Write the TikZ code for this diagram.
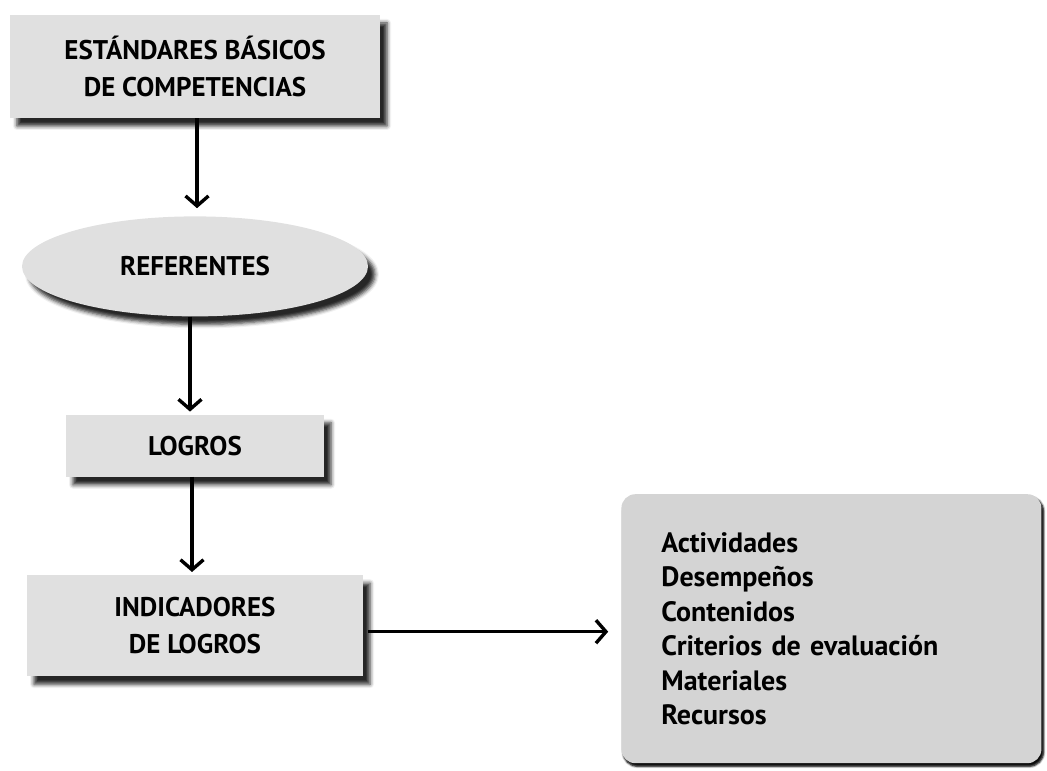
\documentclass[tikz,border=0pt]{standalone}
\usepackage{fontspec}
\setmainfont{PT Sans}
\usetikzlibrary{arrows.meta,positioning,shapes.geometric,shadows.blur}

\begin{document}
\begin{tikzpicture}[x=1pt, y=1pt, node distance=98pt and 258pt]
\tikzset{
  block/.style={rectangle, fill=black!12, draw=none, align=center,
    font=\fontsize{27}{36.5}\selectfont\bfseries, inner sep=4pt,
    blur shadow={shadow xshift=7pt, shadow yshift=-8pt, shadow blur radius=4pt, shadow opacity=85}},
  oval/.style={block, ellipse},
  listbox/.style={block, rounded corners=14pt, fill=black!17, align=left,
    blur shadow={shadow xshift=2pt, shadow yshift=-3pt, shadow blur radius=2pt, shadow opacity=80}},
  flow/.style={-{Straight Barb[length=10pt,width=23pt]}, line width=3.4pt, draw=black}
}
\useasboundingbox (0,0) rectangle (1047,771);

\node[block, minimum width=370pt, minimum height=103pt] (est) at (195,704.5)
  {ESTÁNDARES BÁSICOS\\DE COMPETENCIAS};
\node[oval, below=of est, minimum width=346pt, minimum height=100pt] (ref) {REFERENTES};
\node[block, below=of ref, minimum width=258pt, minimum height=62pt] (logros) {LOGROS};
\node[block, below=of logros, minimum width=336pt, minimum height=101pt] (ind)
  {INDICADORES\\DE LOGROS};
\node[listbox, right=of ind, yshift=-3pt, minimum width=420pt, minimum height=269pt,
  text width=340pt, font=\fontsize{28}{34.4}\selectfont\bfseries] (rec)
  {Actividades\\Desempeños\\Contenidos\\Criterios de evaluación\\Materiales\\Recursos};

\draw[flow, shorten >=8pt] ([xshift=2pt]est.south) -- ([xshift=2pt]ref.north);
\draw[flow, shorten >=3pt] ([xshift=-5pt]ref.south) -- ([xshift=-5pt]logros.north);
\draw[flow, shorten >=3pt] ([xshift=-3pt]logros.south) -- ([xshift=-3pt]ind.north);
\draw[flow, shorten <=5pt, shorten >=13pt] ([yshift=-6pt]ind.east) -- ([yshift=-3pt]rec.west);
\end{tikzpicture}
\end{document}
